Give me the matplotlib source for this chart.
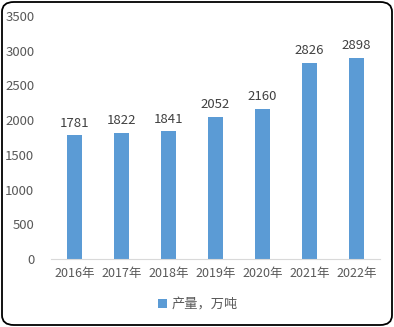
import matplotlib.pyplot as plt
from matplotlib.patches import FancyBboxPatch

plt.rcParams['font.family'] = ['Noto Sans CJK SC', 'DejaVu Sans']

# data
years = ['2016年', '2017年', '2018年', '2019年', '2020年', '2021年', '2022年']
output = [1781, 1822, 1841, 2052, 2160, 2826, 2898]
yticks = [0, 500, 1000, 1500, 2000, 2500, 3000, 3500]

grey = '#595959'
blue = '#5b9bd5'

fig = plt.figure(figsize=(3.94, 3.27), dpi=100)
ax = fig.add_axes([51/394, 1 - 259/327, 329/394, 243/327])

x = range(len(years))
bars = ax.bar(x, output, width=0.32, color=blue, label='产量，万吨')
for b, v in zip(bars, output):
    ax.text(b.get_x() + b.get_width()/2, v + 80, str(v), ha='center', va='bottom',
            fontsize=9.5, color='#404040')

ax.set_xlim(-0.5, len(years) - 0.5)
ax.set_ylim(0, 3500)
ax.set_yticks(yticks)
ax.set_xticks(list(x))
ax.set_xticklabels(years)
ax.tick_params(axis='both', length=0, labelsize=9.5, labelcolor=grey)
ax.tick_params(axis='x', labelsize=9)
ax.tick_params(axis='y', pad=12)
ax.tick_params(axis='x', pad=6)
for s in ['top', 'right', 'left']:
    ax.spines[s].set_visible(False)
ax.spines['bottom'].set_color('#d9d9d9')

leg = fig.legend(loc='center', bbox_to_anchor=(198/394, 1 - 305/327), frameon=False,
                 fontsize=9.5, handlelength=0.65, handleheight=0.65, handletextpad=0.4)
for t in leg.get_texts():
    t.set_color(grey)

frame = FancyBboxPatch((2/394, 2/327), 390/394, 323/327,
                       boxstyle='round,pad=0,rounding_size=0.03',
                       transform=fig.transFigure, fill=False, edgecolor='black',
                       linewidth=1.3)
fig.patches.append(frame)

plt.savefig('out.png', dpi=100)
